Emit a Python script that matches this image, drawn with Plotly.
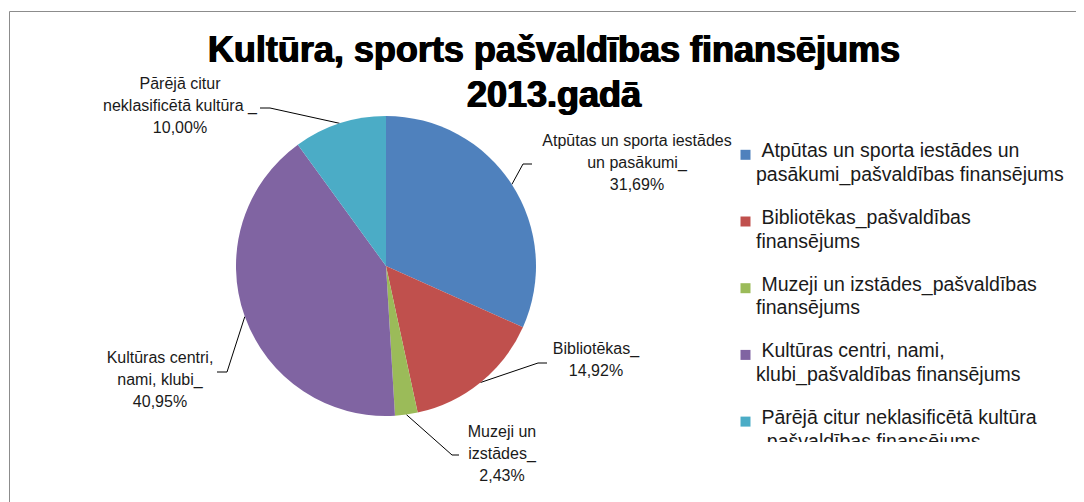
import math
import plotly.graph_objects as go

# ---------------- data ----------------
categories = [
    "Atpūtas un sporta iestādes un pasākumi_pašvaldības finansējums",
    "Bibliotēkas_pašvaldības finansējums",
    "Muzeji un izstādes_pašvaldības finansējums",
    "Kultūras centri, nami, klubi_pašvaldības finansējums",
    "Pārējā citur neklasificētā kultūra _pašvaldības finansējums",
]
values = [31.69, 14.92, 2.43, 40.95, 10.00]
colors = ["#4F81BD", "#C0504D", "#9BBB59", "#8064A2", "#4BACC6"]

legend_lines = [
    ["\u00a0Atpūtas un sporta iestādes un", "pasākumi_pašvaldības finansējums"],
    ["\u00a0Bibliotēkas_pašvaldības", "finansējums"],
    ["\u00a0Muzeji un izstādes_pašvaldības", "finansējums"],
    ["\u00a0Kultūras centri, nami,", "klubi_pašvaldības finansējums"],
    ["\u00a0Pārējā citur neklasificētā kultūra", "_pašvaldības finansējums"],
]
label_lines = [
    ["Atpūtas un sporta iestādes", "un pasākumi_"],
    ["Bibliotēkas_"],
    ["Muzeji un", "izstādes_"],
    ["Kultūras centri,", "nami, klubi_"],
    ["Pārējā citur", "neklasificētā kultūra _"],
]
title_lines = ["Kultūra, sports pašvaldības finansējums", "2013.gadā"]

# ---------------- layout constants (screen pixels) ----------------
W, H = 1084, 502
OFF = 8  # page body margin
PCX, PCY, PR = 386, 266, 150
FONT = "Liberation Sans"
LABEL_SIZE = 16
LEG_SIZE = 19.5
TITLE_SIZE = 36

label_cx = [637, 596, 502, 160, 180]
label_base = [147.5, 356, 438.3, 364.3, 90.7]
label_step = 22
elbow_xy = [(523, 164), (538, 363), (452, 455), (227, 372), (270, 108)]
elbow_end_x = [532, 547, 459, 217, 260]


def fx(px):
    return (px - OFF) / W


def fy(py):
    return 1 - (py - OFF) / H


fig = go.Figure()

fig.add_trace(go.Pie(
    labels=categories, values=values, sort=False, direction="clockwise",
    rotation=0, textinfo="none", hoverinfo="label+percent",
    marker=dict(colors=colors, line=dict(width=0)),
    domain=dict(x=[fx(PCX - PR), fx(PCX + PR)], y=[fy(PCY + PR), fy(PCY - PR)]),
    showlegend=False,
))

total = sum(values)
cum = 0.0
lx, ly = [], []
tx, ty, tt = [], [], []
for i, v in enumerate(values):
    mid = (cum + v / 2) / total
    cum += v
    th = 2 * math.pi * mid
    sx = PCX + PR * math.sin(th)
    sy = PCY - PR * math.cos(th)
    ex, ey = elbow_xy[i]
    lx += [sx, ex, elbow_end_x[i], None]
    ly += [sy, ey, ey, None]
    lines = label_lines[i] + [f"{v:.2f}".replace(".", ",") + "%"]
    for k, line in enumerate(lines):
        tx.append(label_cx[i])
        ty.append(label_base[i] + k * label_step - 0.35 * LABEL_SIZE)
        tt.append(line)

fig.add_trace(go.Scatter(x=lx, y=ly, mode="lines", xaxis="x2", yaxis="y2",
                         line=dict(color="#000000", width=1),
                         hoverinfo="skip", showlegend=False))
fig.add_trace(go.Scatter(x=tx, y=ty, mode="text", text=tt, xaxis="x2", yaxis="y2",
                         textposition="middle center", cliponaxis=False,
                         textfont=dict(family=FONT, size=LABEL_SIZE, color="#1a1a1a"),
                         hoverinfo="skip", showlegend=False))

title_base = [66, 111]
fig.add_trace(go.Scatter(x=[554, 554], y=[b - 0.35 * TITLE_SIZE for b in title_base],
                         mode="text", text=title_lines, xaxis="x2", yaxis="y2",
                         textposition="middle center", cliponaxis=False,
                         textfont=dict(family=FONT, size=TITLE_SIZE, color="#000000",
                                       weight="bold",
                                       shadow="0.7px 0 0 #000, -0.7px 0 0 #000"),
                         hoverinfo="skip", showlegend=False))

leg_base0 = 159.3
leg_item_step = 66.7
leg_line_step = 23.5
leg_text_x = 756
mx, my = [], []
gx, gy, gt = [], [], []
for i, lines in enumerate(legend_lines):
    b = leg_base0 + i * leg_item_step
    mx.append(745.5)
    my.append(b - 4.5)
    for k, line in enumerate(lines):
        gx.append(leg_text_x)
        gy.append(b + k * leg_line_step - 0.35 * LEG_SIZE)
        gt.append(line)

fig.add_trace(go.Scatter(x=mx, y=my, mode="markers", xaxis="x3", yaxis="y3",
                         marker=dict(symbol="square", size=10, color=colors,
                                     line=dict(width=0)),
                         hoverinfo="skip", showlegend=False))
fig.add_trace(go.Scatter(x=gx, y=gy, mode="text", text=gt, xaxis="x3", yaxis="y3",
                         textposition="middle right", cliponaxis=True,
                         textfont=dict(family=FONT, size=LEG_SIZE, color="#1a1a1a"),
                         hoverinfo="skip", showlegend=False))

LEG_X0, LEG_Y0, LEG_Y1 = 725, 120, 442

fig.update_layout(
    width=W, height=H,
    margin=dict(l=0, r=0, t=0, b=0),
    paper_bgcolor="#ffffff", plot_bgcolor="rgba(0,0,0,0)",
    showlegend=False,
    xaxis2=dict(domain=[0, 1], range=[OFF, W + OFF], visible=False, fixedrange=True),
    yaxis2=dict(domain=[0, 1], range=[H + OFF, OFF], visible=False, fixedrange=True,
                anchor="x2"),
    xaxis3=dict(domain=[fx(LEG_X0), 1], range=[LEG_X0, W + OFF], visible=False,
                fixedrange=True, anchor="y3"),
    yaxis3=dict(domain=[fy(LEG_Y1), fy(LEG_Y0)], range=[LEG_Y1, LEG_Y0],
                visible=False, fixedrange=True, anchor="x3"),
    shapes=[
        dict(type="line", xref="paper", yref="paper",
             x0=fx(9.5), x1=1.0, y0=fy(11.5), y1=fy(11.5),
             line=dict(color="#8c8c8c", width=1)),
        dict(type="line", xref="paper", yref="paper",
             x0=fx(9.5), x1=fx(9.5), y0=fy(11.5), y1=0,
             line=dict(color="#8c8c8c", width=1)),
    ],
)

fig.write_html("out.html")
